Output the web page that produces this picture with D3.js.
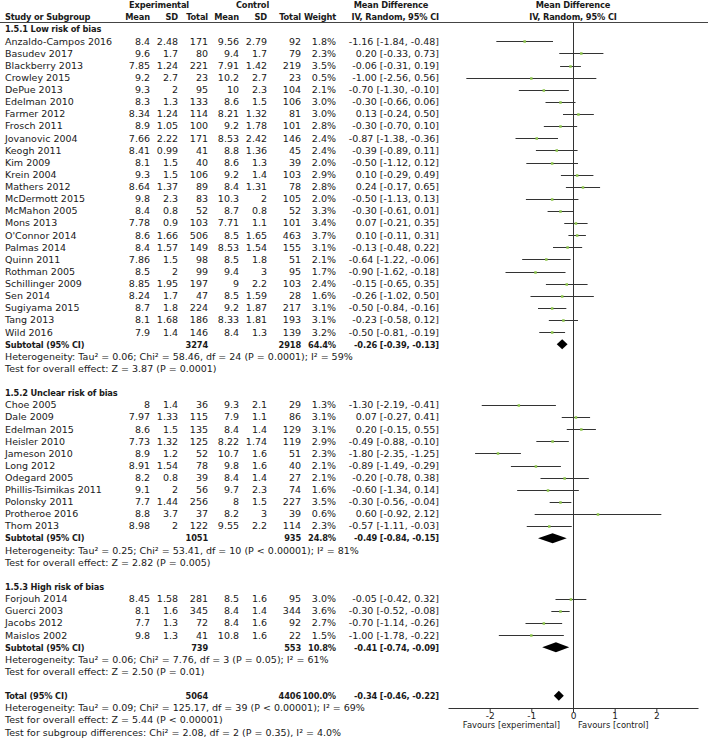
<!DOCTYPE html>
<html><head><meta charset="utf-8">
<script src="https://cdn.jsdelivr.net/npm/d3@7"></script>
<style>
body{margin:0;background:#fff;}
text{font-family:"DejaVu Sans",sans-serif;font-size:9.5px;fill:#1a1a1a;}
.b{font-family:"DejaVu Sans Condensed","DejaVu Sans",sans-serif;font-stretch:condensed;font-weight:bold;font-size:9.2px;letter-spacing:-0.15px;}
</style>
</head><body><svg id="c" width="708" height="739"></svg>
<script>
// ---------- DATA ----------
const groupNames = ["1.5.1 Low risk of bias", "1.5.2 Unclear risk of bias", "1.5.3 High risk of bias"];
const groupSizes = [25, 11, 4];
const studyNames = ["Anzaldo-Campos 2016","Basudev 2017","Blackberry 2013","Crowley 2015","DePue 2013","Edelman 2010","Farmer 2012","Frosch 2011","Jovanovic 2004","Keogh 2011","Kim 2009","Krein 2004","Mathers 2012","McDermott 2015","McMahon 2005","Mons 2013","O'Connor 2014","Palmas 2014","Quinn 2011","Rothman 2005","Schillinger 2009","Sen 2014","Sugiyama  2015","Tang 2013","Wild 2016",
  "Choe 2005","Dale 2009","Edelman 2015","Heisler 2010","Jameson 2010","Long 2012","Odegard 2005","Phillis-Tsimikas 2011","Polonsky 2011","Protheroe 2016","Thom 2013",
  "Forjouh 2014","Guerci 2003","Jacobs 2012","Maislos 2002"];
const expMean = [8.4,9.6,7.85,9.2,9.3,8.3,8.34,8.9,7.66,8.41,8.1,9.3,8.64,9.8,8.4,7.78,8.6,8.4,7.86,8.5,8.85,8.24,8.7,8.1,7.9,
  8,7.97,8.6,7.73,8.9,8.91,8.2,9.1,7.7,8.8,8.98,
  8.45,8.1,7.7,9.8];
const expSD = [2.48,1.7,1.24,2.7,2,1.3,1.24,1.05,2.22,0.99,1.5,1.5,1.37,2.3,0.8,0.9,1.66,1.57,1.5,2,1.95,1.7,1.8,1.68,1.4,
  1.4,1.33,1.5,1.32,1.2,1.54,0.8,2,1.44,3.7,2,
  1.58,1.6,1.3,1.3];
const expN = [171,80,221,23,95,133,114,100,171,41,40,106,89,83,52,103,506,149,98,99,197,47,224,186,146,
  36,115,135,125,52,78,39,56,256,37,122,
  281,345,72,41];
const ctrlMean = [9.56,9.4,7.91,10.2,10,8.6,8.21,9.2,8.53,8.8,8.6,9.2,8.4,10.3,8.7,7.71,8.5,8.53,8.5,9.4,9,8.5,9.2,8.33,8.4,
  9.3,7.9,8.4,8.22,10.7,9.8,8.4,9.7,8,8.2,9.55,
  8.5,8.4,8.4,10.8];
const ctrlSD = [2.79,1.7,1.42,2.7,2.3,1.5,1.32,1.78,2.42,1.36,1.3,1.4,1.31,2,0.8,1.1,1.65,1.54,1.8,3,2.2,1.59,1.87,1.81,1.3,
  2.1,1.1,1.4,1.74,1.6,1.6,1.4,2.3,1.5,3,2.2,
  1.6,1.4,1.6,1.6];
const ctrlN = [92,79,219,23,104,106,81,101,146,45,39,103,78,105,52,101,463,155,51,95,103,28,217,193,139,
  29,86,129,119,51,40,27,74,227,39,114,
  95,344,92,22];
const weightPct = [1.8,2.3,3.5,0.5,2.1,3.0,3.0,2.8,2.4,2.4,2.0,2.9,2.8,2.0,3.3,3.4,3.7,3.1,2.1,1.7,2.4,1.6,3.1,3.1,3.2,
  1.3,3.1,3.1,2.9,2.3,2.1,2.1,1.6,3.5,0.6,2.3,
  3.0,3.6,2.7,1.5];
const meanDiff = [-1.16,0.20,-0.06,-1.00,-0.70,-0.30,0.13,-0.30,-0.87,-0.39,-0.50,0.10,0.24,-0.50,-0.30,0.07,0.10,-0.13,-0.64,-0.90,-0.15,-0.26,-0.50,-0.23,-0.50,
  -1.30,0.07,0.20,-0.49,-1.80,-0.89,-0.20,-0.60,-0.30,0.60,-0.57,
  -0.05,-0.30,-0.70,-1.00];
const ciLow = [-1.84,-0.33,-0.31,-2.56,-1.30,-0.66,-0.24,-0.70,-1.38,-0.89,-1.12,-0.29,-0.17,-1.13,-0.61,-0.21,-0.11,-0.48,-1.22,-1.62,-0.65,-1.02,-0.84,-0.58,-0.81,
  -2.19,-0.27,-0.15,-0.88,-2.35,-1.49,-0.78,-1.34,-0.56,-0.92,-1.11,
  -0.42,-0.52,-1.14,-1.78];
const ciHigh = [-0.48,0.73,0.19,0.56,-0.10,0.06,0.50,0.10,-0.36,0.11,0.12,0.49,0.65,0.13,0.01,0.35,0.31,0.22,-0.06,-0.18,0.35,0.50,-0.16,0.12,-0.19,
  -0.41,0.41,0.55,-0.10,-1.25,-0.29,0.38,0.14,-0.04,2.12,-0.03,
  0.32,-0.08,-0.26,-0.22];

const subExpN = [3274, 1051, 739];
const subCtrlN = [2918, 935, 553];
const subWeight = [64.4, 24.8, 10.8];
const subMD = [-0.26, -0.49, -0.41];
const subLow = [-0.39, -0.84, -0.74];
const subHigh = [-0.13, -0.15, -0.09];
const subHet = ["Heterogeneity: Tau² = 0.06; Chi² = 58.46, df = 24 (P = 0.0001); I² = 59%",
  "Heterogeneity: Tau² = 0.25; Chi² = 53.41, df = 10 (P < 0.00001); I² = 81%",
  "Heterogeneity: Tau² = 0.06; Chi² = 7.76, df = 3 (P = 0.05); I² = 61%"];
const subTest = ["Test for overall effect: Z = 3.87 (P = 0.0001)",
  "Test for overall effect: Z = 2.82 (P = 0.005)",
  "Test for overall effect: Z = 2.50 (P = 0.01)"];

const totalValues = {expN: 5064, ctrlN: 4406, weight: 100.0, md: -0.34, lo: -0.46, hi: -0.22};
const totalNotes = ["Heterogeneity: Tau² = 0.09; Chi² = 125.17, df = 39 (P < 0.00001); I² = 69%",
  "Test for overall effect: Z = 5.44 (P < 0.00001)",
  "Test for subgroup differences: Chi² = 2.08, df = 2 (P = 0.35), I² = 4.0%"];

const axisTicks = [-2, -1, 0, 1, 2];
const axisDomain = [-3, 3];
const favourLabels = ["Favours [experimental]", "Favours [control]"];

// ---------- LAYOUT ----------
const svg = d3.select("#c");
const yRow = d3.scaleLinear().domain([0, 58]).range([29.2, 732.2]);
const x = d3.scaleLinear().domain(axisDomain).range([448, 698]);
const col = {label: 5, expMean: 150, expSD: 178, expN: 208, ctrlMean: 239, ctrlSD: 267, ctrlN: 301, weight: 336, md: 439};
const axisY = 708, headerLineY = 22.5;
const fmt2 = d3.format(".2f");
const fmtMD = v => fmt2(v).replace("−", "-");
const ciText = (m, l, h) => `${fmtMD(m)} [${fmtMD(l)}, ${fmtMD(h)}]`;

function txt(xp, r, s, anchor, bold) {
  return svg.append("text").attr("x", xp).attr("y", yRow(r))
    .attr("dy", "0.35em").attr("text-anchor", anchor || "start")
    .attr("class", bold ? "b" : null).text(s);
}

// headers
txt(159, -2, "Experimental", "middle", true);
txt(252.5, -2, "Control", "middle", true);
txt(391, -2, "Mean Difference", "middle", true);
txt(573, -2, "Mean Difference", "middle", true);
txt(col.label, -1, "Study or Subgroup", "start", true);
txt(col.expMean, -1, "Mean", "end", true);
txt(col.expSD, -1, "SD", "end", true);
txt(col.expN, -1, "Total", "end", true);
txt(col.ctrlMean, -1, "Mean", "end", true);
txt(col.ctrlSD, -1, "SD", "end", true);
txt(col.ctrlN, -1, "Total", "end", true);
txt(col.weight, -1, "Weight", "end", true);
txt(col.md, -1, "IV, Random, 95% CI", "end", true);
txt(573, -1, "IV, Random, 95% CI", "middle", true);

svg.append("line").attr("x1", 0).attr("x2", 708).attr("y1", headerLineY).attr("y2", headerLineY)
  .attr("stroke", "#444").attr("stroke-width", 1);

// zero line
svg.append("line").attr("x1", Math.round(x(0)) + 0.5).attr("x2", Math.round(x(0)) + 0.5)
  .attr("y1", headerLineY).attr("y2", axisY).attr("stroke", "#333").attr("stroke-width", 1);

function diamond(r, m, l, h) {
  const yc = yRow(r);
  svg.append("path")
    .attr("d", `M${x(l)},${yc}L${x(m)},${yc - 5}L${x(h)},${yc}L${x(m)},${yc + 5}Z`)
    .attr("fill", "#000");
}

let r = 0, si = 0;
groupNames.forEach((g, gi) => {
  txt(col.label, r, g, "start", true); r++;
  for (let k = 0; k < groupSizes[gi]; k++, si++, r++) {
    txt(col.label, r, studyNames[si]);
    txt(col.expMean, r, String(expMean[si]), "end");
    txt(col.expSD, r, String(expSD[si]), "end");
    txt(col.expN, r, String(expN[si]), "end");
    txt(col.ctrlMean, r, String(ctrlMean[si]), "end");
    txt(col.ctrlSD, r, String(ctrlSD[si]), "end");
    txt(col.ctrlN, r, String(ctrlN[si]), "end");
    txt(col.weight, r, weightPct[si].toFixed(1) + "%", "end");
    txt(col.md, r, ciText(meanDiff[si], ciLow[si], ciHigh[si]), "end");
    const yc = Math.round(yRow(r)) + 0.5;
    svg.append("line").attr("x1", x(ciLow[si])).attr("x2", x(ciHigh[si]))
      .attr("y1", yc).attr("y2", yc).attr("stroke", "#333").attr("stroke-width", 1);
    svg.append("rect").attr("x", x(meanDiff[si]) - 1.25).attr("y", yc - 1.25)
      .attr("width", 2.5).attr("height", 2.5).attr("fill", "#8bc34a");
  }
  txt(col.label, r, "Subtotal (95% CI)", "start", true);
  txt(col.expN, r, String(subExpN[gi]), "end", true);
  txt(col.ctrlN, r, String(subCtrlN[gi]), "end", true);
  txt(col.weight, r, subWeight[gi].toFixed(1) + "%", "end", true);
  txt(col.md, r, ciText(subMD[gi], subLow[gi], subHigh[gi]), "end", true);
  diamond(r, subMD[gi], subLow[gi], subHigh[gi]);
  r++;
  txt(col.label, r, subHet[gi]); r++;
  txt(col.label, r, subTest[gi]); r++;
  r++; // blank
});

txt(col.label, r, "Total (95% CI)", "start", true);
txt(col.expN, r, String(totalValues.expN), "end", true);
txt(col.ctrlN, r, String(totalValues.ctrlN), "end", true);
txt(col.weight, r, totalValues.weight.toFixed(1) + "%", "end", true);
txt(col.md, r, ciText(totalValues.md, totalValues.lo, totalValues.hi), "end", true);
diamond(r, totalValues.md, totalValues.lo, totalValues.hi);
r++;
totalNotes.forEach(n => { txt(col.label, r, n); r++; });

// axis
const ax = svg.append("g").attr("transform", `translate(0,${axisY})`)
  .call(d3.axisBottom(x).tickValues(axisTicks).tickSize(4).tickSizeOuter(0).tickPadding(1).tickFormat(d => String(d)));
ax.attr("font-family", null).attr("font-size", null);
ax.select(".domain").attr("stroke", "#333");
ax.selectAll(".tick line").attr("stroke", "#333");
ax.selectAll(".tick text").style("font-size", "9px").attr("fill", "#1a1a1a");

svg.append("text").attr("x", x(0) - 13).attr("y", 725).attr("dy", "0.35em").attr("text-anchor", "end")
  .style("font-size", "8.4px").text(favourLabels[0]);
svg.append("text").attr("x", x(0) + 5).attr("y", 725).attr("dy", "0.35em").attr("text-anchor", "start")
  .style("font-size", "8.4px").text(favourLabels[1]);
</script>
</body></html>
